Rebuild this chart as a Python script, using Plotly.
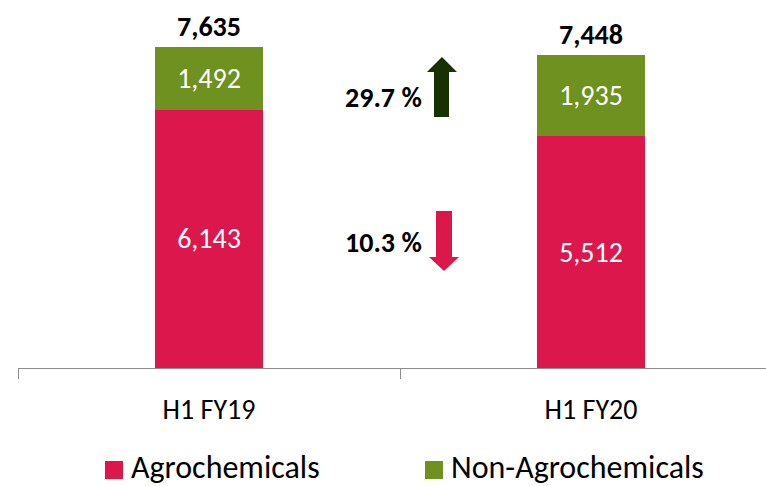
import plotly.graph_objects as go

categories = ["H1 FY19", "H1 FY20"]
agro = [6143, 5512]
non_agro = [1492, 1935]
totals = [7635, 7448]
growth_labels = ["29.7 %", "10.3 %"]
series_names = ["Agrochemicals", "Non-Agrochemicals"]

RED = "#DC174C"
GREEN = "#6F9120"
DARK_GREEN = "#173200"
FONT = "Carlito, Lato, sans-serif"

W, H = 766, 486
ML, MR, MT, MB = 18, 0, 10, 118
PW, PH = W - ML - MR, H - MT - MB

fig = go.Figure()
for vals, name, col in [(agro, series_names[0], RED), (non_agro, series_names[1], GREEN)]:
    fig.add_bar(x=categories, y=vals, name=name, marker_color=col,
                marker_line_width=0,
                text=[f"{v:,}" for v in vals], textposition="inside",
                insidetextanchor="middle", textangle=0,
                textfont=dict(color="white", size=28, family=FONT),
                showlegend=False, width=0.283)

for c, t in zip(categories, totals):
    fig.add_annotation(x=c, y=t, text=f"<b>{t:,}</b>", showarrow=False,
                       yanchor="bottom", yshift=1,
                       font=dict(size=28, color="black", family=FONT))

def px(x):
    return (x - ML) / PW

def py(y):
    return (MT + PH - y) / PH

# growth labels
for lbl, yy in zip(growth_labels, [97, 242]):
    fig.add_annotation(xref="paper", yref="paper", x=px(424), y=py(yy), text=f"<b>{lbl}</b>",
                       showarrow=False, xanchor="right", yanchor="middle",
                       font=dict(size=28, color="black", family=FONT))

def arrow_path(pts):
    return "M " + " L ".join(f"{px(x):.5f},{py(y):.5f}" for x, y in pts) + " Z"

up = [(442, 57), (457, 72), (449, 72), (449, 117), (434, 117), (434, 72), (427, 72)]
down = [(444, 271), (459, 257), (452, 257), (452, 211), (436, 211), (436, 257), (429, 257)]
fig.add_shape(type="path", xref="paper", yref="paper", path=arrow_path(up),
              fillcolor=DARK_GREEN, line=dict(width=0))
fig.add_shape(type="path", xref="paper", yref="paper", path=arrow_path(down),
              fillcolor=RED, line=dict(width=0))

# legend (manual, large square swatches)
for name, col, x0 in [(series_names[0], RED, 105), (series_names[1], GREEN, 425)]:
    fig.add_shape(type="rect", xref="paper", yref="paper",
                  x0=px(x0), x1=px(x0 + 18), y0=py(479), y1=py(461),
                  fillcolor=col, line=dict(width=0))
    fig.add_annotation(xref="paper", yref="paper", x=px(x0 + 24), y=py(467),
                       text=name, showarrow=False, xanchor="left", yanchor="middle",
                       font=dict(size=32, color="black", family=FONT))

ymax = PH / (321 / 7635)
fig.update_layout(
    width=W, height=H,
    margin=dict(l=ML, r=MR, t=MT, b=MB, autoexpand=False),
    barmode="stack",
    plot_bgcolor="white", paper_bgcolor="white",
    font=dict(family=FONT, size=28, color="black"),
    xaxis=dict(range=[-0.5, -0.5 + PW / 382], showline=True, linecolor="#8C8C8C",
               linewidth=1, ticks="outside", tickson="boundaries", ticklen=10,
               tickcolor="#8C8C8C", showgrid=False, tickfont=dict(size=28, family=FONT),
               ticklabelstandoff=16, fixedrange=True),
    yaxis=dict(range=[0, ymax], visible=False, fixedrange=True),
    showlegend=False,
)

fig.write_html("out.html", post_script="document.body.style.margin='0px';",
               config={"displayModeBar": False})
